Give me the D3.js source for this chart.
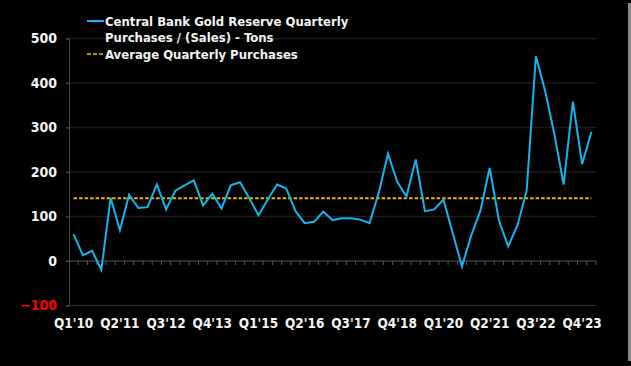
<!DOCTYPE html>
<html>
<head>
<meta charset="utf-8">
<script src="https://cdn.jsdelivr.net/npm/d3@7"></script>
<style>
  body { margin: 0; background: #000; }
  text { font-family: "DejaVu Sans Condensed", "DejaVu Sans", sans-serif; font-weight: bold; }
</style>
</head>
<body>
<script>
// quarters Q1'10 .. Q1'24
var quarters = [];
for (var yr = 10; yr <= 24; yr++) {
  for (var q = 1; q <= 4; q++) {
    if (yr == 24 && q > 1) break;
    quarters.push("Q" + q + "'" + yr);
  }
}

// tons
var purchases = [60, 13, 23, -20, 142, 69, 149, 119, 121, 172,
                 116, 158, 170, 181, 125, 151, 118, 170, 177, 141,
                 103, 138, 172, 163, 112, 85, 88, 111, 92, 96,
                 96, 93, 85, 153, 241, 178, 145, 228, 112, 116,
                 138, 63, -12, 57, 113, 209, 91, 33, 80, 158,
                 460, 382, 285, 172, 358, 218, 290];
var average = 141;

var yTicks = [-100, 0, 100, 200, 300, 400, 500];
var labelEvery = 5;

var w = 631, h = 366;

var svg = d3.select("body").append("svg")
    .attr("width", w)
    .attr("height", h);

svg.append("rect").attr("width", w).attr("height", h).attr("fill", "#000");

// thin grey edge on the right
svg.append("rect")
    .attr("x", 628).attr("y", 3)
    .attr("width", 3).attr("height", 358)
    .attr("fill", "#8a8a8a");

var x = d3.scaleBand()
    .domain(quarters)
    .range([69, 596]);

var y = d3.scaleLinear()
    .domain([-100, 500])
    .range([305.5, 38.5]);

function cx(d) { return x(d) + x.bandwidth() / 2; }

// gridlines
svg.append("g")
  .selectAll("line")
  .data(yTicks.filter(function(d) { return d > 0; }))
  .enter().append("line")
    .attr("x1", 66).attr("x2", 596)
    .attr("y1", function(d) { return y(d); })
    .attr("y2", function(d) { return y(d); })
    .attr("stroke", "#1c1c1c")
    .attr("stroke-width", 1.5);

// bottom line at -100
svg.append("line")
    .attr("x1", 66).attr("x2", 596)
    .attr("y1", y(-100)).attr("y2", y(-100))
    .attr("stroke", "#333")
    .attr("stroke-width", 1);

// y axis
var yAxis = svg.append("g")
    .attr("transform", "translate(69,0)")
    .call(d3.axisLeft(y).tickValues(yTicks).tickSize(3).tickPadding(9));
yAxis.select(".domain").attr("stroke", "#4a4a4a");
yAxis.selectAll(".tick line").attr("stroke", "#4a4a4a");
yAxis.selectAll(".tick text")
    .attr("font-size", 14)
    .attr("font-family", "DejaVu Sans")
    .attr("font-weight", "bold")
    .attr("fill", function(d) { return d < 0 ? "#ff0000" : "#f4f4f4"; });

// zero line with quarter ticks
var xAxis = svg.append("g")
    .attr("transform", "translate(0," + y(0) + ")");
xAxis.append("line")
    .attr("x1", 66).attr("x2", 596)
    .attr("stroke", "#555")
    .attr("stroke-width", 1.2);
xAxis.selectAll(".qt")
  .data(quarters)
  .enter().append("line")
    .attr("class", "qt")
    .attr("x1", function(d) { return x(d) + x.step(); })
    .attr("x2", function(d) { return x(d) + x.step(); })
    .attr("y1", 0).attr("y2", 4)
    .attr("stroke", "#555");

// x labels
svg.append("g")
  .selectAll("text")
  .data(quarters.filter(function(d, i) { return i % labelEvery == 0; }))
  .enter().append("text")
    .attr("x", function(d) { return cx(d); })
    .attr("y", 328)
    .attr("text-anchor", "middle")
    .attr("font-size", 13.5)
    .attr("fill", "#f4f4f4")
    .text(function(d) { return d; });

// average line
svg.append("line")
    .attr("x1", cx(quarters[0]))
    .attr("x2", cx(quarters[quarters.length - 1]))
    .attr("y1", y(average)).attr("y2", y(average))
    .attr("stroke", "#f2b705")
    .attr("stroke-width", 2)
    .attr("stroke-dasharray", "3.5,2");

// purchases line
var line = d3.line()
    .x(function(d, i) { return cx(quarters[i]); })
    .y(function(d) { return y(d); });

svg.append("path")
    .datum(purchases)
    .attr("d", line)
    .attr("fill", "none")
    .attr("stroke", "#13b6ec")
    .attr("stroke-width", 2)
    .attr("stroke-linejoin", "miter");

// legend
var legend = svg.append("g").attr("transform", "translate(87,0)");
legend.append("line")
    .attr("x1", 0).attr("x2", 17)
    .attr("y1", 21).attr("y2", 21)
    .attr("stroke", "#13b6ec").attr("stroke-width", 2);
legend.append("line")
    .attr("x1", 0).attr("x2", 17)
    .attr("y1", 54).attr("y2", 54)
    .attr("stroke", "#f2b705").attr("stroke-width", 1.5)
    .attr("stroke-dasharray", "4,2");
var legendLines = [
  ["Central Bank Gold Reserve Quarterly", 26],
  ["Purchases / (Sales) - Tons", 42],
  ["Average Quarterly Purchases", 59]
];
legend.selectAll("text")
  .data(legendLines)
  .enter().append("text")
    .attr("x", 18)
    .attr("y", function(d) { return d[1]; })
    .attr("font-size", 13)
    .attr("fill", "#f4f4f4")
    .text(function(d) { return d[0]; });
</script>
</body>
</html>
